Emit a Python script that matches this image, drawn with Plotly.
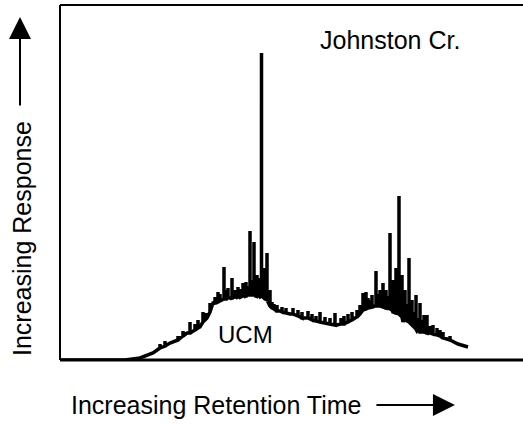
import plotly.graph_objects as go

# UCM hump (unresolved complex mixture): scan position vs detector response
ucm_scan = [0, 65, 80, 93, 110, 127, 140, 147, 153, 167, 180, 190, 200, 210, 220,
            230, 243, 260, 277, 285, 295, 307, 315, 323, 333, 343, 357, 373, 387,
            398, 408]
ucm_resp = [0, 0, 2, 7, 17, 27, 33, 42, 57, 62, 64, 66, 63, 53, 49,
            46, 42, 38, 35, 37, 42, 52, 54, 53, 47, 38, 29, 26, 21,
            16, 13]

# Resolved peaks riding on the hump: position, response at foot, response at apex
peak_scan = [100, 105, 118, 123, 130, 135, 138, 143, 146, 150, 155, 158, 160, 164,
             166, 168, 172, 175, 178, 181, 183, 186, 188, 190, 192, 194, 196, 197,
             199, 201.5, 203, 204, 205, 207, 210, 212, 214, 217, 222, 226, 233, 238,
             242, 248, 252, 256, 260, 265, 270, 275, 281, 284, 288, 292, 297, 300,
             303, 306, 308, 310, 312, 316, 318, 320, 323, 326, 328, 330, 332, 333,
             336, 338, 339, 342, 344, 345, 347, 349, 351, 352, 354, 356, 358, 360,
             362, 364, 367, 370, 373, 377, 380, 383, 390]
peak_foot = [12, 14, 20, 24, 27, 30, 32, 38, 41, 48, 57, 58, 59, 61,
             61, 62, 62, 63, 63, 63, 64, 64, 65, 65, 65, 65, 64, 64,
             64, 64, 63, 62, 61, 60, 54, 52, 51, 49, 48, 47, 46, 44,
             42, 42, 40, 39, 38, 37, 36, 35, 36, 36, 38, 40, 43, 46,
             50, 51, 52, 53, 53, 54, 54, 54, 53, 52, 52, 51, 50, 48,
             47, 47, 46, 43, 42, 40, 39, 38, 36, 35, 33, 31, 30, 28,
             28, 28, 27, 27, 26, 25, 24, 22, 20]
peak_apex = [16, 19, 24, 29, 38, 36, 40, 48, 47, 57, 63, 68, 66, 93,
             70, 72, 82, 70, 73, 71, 77, 78, 74, 129, 80, 118, 76, 85,
             82, 307, 75, 92, 80, 107, 70, 58, 56, 55, 53, 52, 52, 50,
             48, 49, 46, 44, 48, 43, 42, 47, 42, 44, 46, 48, 50, 55,
             67, 68, 62, 60, 65, 89, 66, 70, 77, 70, 64, 127, 62, 80,
             92, 60, 164, 85, 58, 70, 56, 102, 50, 60, 48, 65, 42, 57,
             40, 45, 45, 34, 35, 32, 30, 28, 24]

# Assemble the chromatogram: hump points plus a spike up and back at each peak
pts = [(s, r) for s, r in zip(ucm_scan, ucm_resp)]
for s, f, a in zip(peak_scan, peak_foot, peak_apex):
    pts.append((s - 0.01, f))
    pts.append((s, a))
    pts.append((s + 0.01, f))
pts.sort(key=lambda p: p[0])
trace_x = [p[0] for p in pts]
trace_y = [p[1] for p in pts]

FONT = "Liberation Sans, Arial, sans-serif"

fig = go.Figure()
fig.add_trace(go.Scatter(
    x=trace_x, y=trace_y, mode="lines",
    line=dict(color="black", width=3.5),
    hoverinfo="skip", showlegend=False,
))

fig.update_layout(
    width=523, height=425,
    margin=dict(l=60, r=0, t=5, b=65),
    paper_bgcolor="white", plot_bgcolor="white",
    xaxis=dict(range=[0, 463], visible=False, fixedrange=True),
    yaxis=dict(range=[0, 355], visible=False, fixedrange=True),
    font=dict(family=FONT, color="black"),
)

# Open-ended frame: left, top and bottom edges
fig.add_shape(type="line", xref="paper", yref="paper", x0=0, x1=0, y0=0, y1=1,
              line=dict(color="black", width=2))
fig.add_shape(type="line", xref="paper", yref="paper", x0=0, x1=1, y0=1, y1=1,
              line=dict(color="black", width=2))
fig.add_shape(type="line", xref="paper", yref="paper", x0=0, x1=1, y0=0, y1=0,
              line=dict(color="black", width=3))

fig.add_annotation(x=330, y=320, xref="x", yref="y", text="Johnston Cr.",
                   showarrow=False, xanchor="center", yanchor="middle",
                   font=dict(size=25, family=FONT))
fig.add_annotation(x=185, y=26, xref="x", yref="y", text="UCM",
                   showarrow=False, xanchor="center", yanchor="middle",
                   font=dict(size=24, family=FONT))

# Axis captions with direction arrows
fig.add_annotation(x=0.337, y=-0.127, xref="paper", yref="paper",
                   text="Increasing Retention Time", showarrow=False,
                   xanchor="center", yanchor="middle",
                   font=dict(size=25, family=FONT))
fig.add_annotation(x=0.853, y=-0.127, xref="paper", yref="paper", text="",
                   showarrow=True, ax=-80, ay=0, arrowhead=2, arrowsize=2.2,
                   arrowwidth=2, arrowcolor="black")
fig.add_annotation(x=-0.082, y=0.341, xref="paper", yref="paper",
                   text="Increasing Response", textangle=-90, showarrow=False,
                   xanchor="center", yanchor="middle",
                   font=dict(size=25, family=FONT))
fig.add_annotation(x=-0.0864, y=0.966, xref="paper", yref="paper", text="",
                   showarrow=True, ax=0, ay=90, arrowhead=2, arrowsize=2.2,
                   arrowwidth=2, arrowcolor="black")

fig.write_html("out.html")
